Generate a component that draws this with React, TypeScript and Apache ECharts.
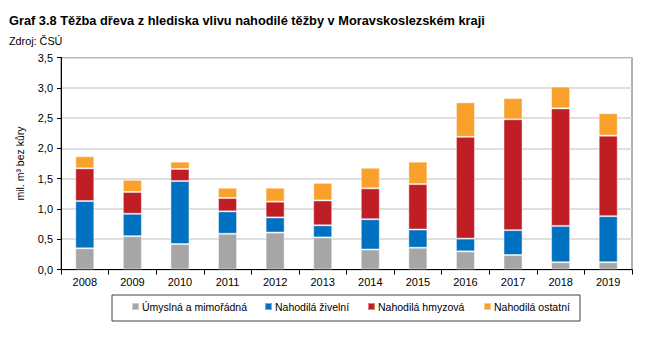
import React, { useEffect, useRef } from "react";
import * as echarts from "echarts";

const years = ["2008","2009","2010","2011","2012","2013","2014","2015","2016","2017","2018","2019"];
const umyslna = [0.35,0.55,0.42,0.59,0.61,0.53,0.33,0.36,0.30,0.24,0.12,0.12];
const zivelni = [0.78,0.37,1.04,0.37,0.25,0.20,0.50,0.30,0.21,0.41,0.60,0.76];
const hmyzova = [0.54,0.36,0.20,0.22,0.26,0.41,0.51,0.75,1.68,1.83,1.94,1.33];
const ostatni = [0.20,0.20,0.12,0.17,0.23,0.29,0.34,0.37,0.57,0.35,0.36,0.37];
const seriesNames = ["Úmyslná a mimořádná","Nahodilá živelní","Nahodilá hmyzová","Nahodilá ostatní"];
const colors = ["#A6A6A6","#0070C0","#BE1E24","#F9A12A"];
const legendLefts = [131, 264, 367, 483];

const FONT = "Liberation Sans, Arial, sans-serif";

export default function App() {
  const ref = useRef<HTMLDivElement>(null);
  useEffect(() => {
    document.body.style.margin = "0";
    const chart = echarts.init(ref.current!, null, { renderer: "svg" });
    const data = [umyslna, zivelni, hmyzova, ostatni];
    chart.setOption({
      animation: false,
      textStyle: { fontFamily: FONT },
      title: [
        { text: "Graf 3.8 Těžba dřeva z hlediska vlivu nahodilé těžby v Moravskoslezském kraji", left: 4, top: 9,
          textStyle: { fontFamily: FONT, fontSize: 12.8, fontWeight: "bold", color: "#000" } },
        { text: "Zdroj: ČSÚ", left: 4, top: 30, textStyle: { fontFamily: FONT, fontSize: 10.8, fontWeight: "normal", color: "#000" } },
      ],
      grid: { left: 61, right: 16, top: 57.5, bottom: 73.5, show: true, borderColor: "#606060", borderWidth: 1, containLabel: false },
      graphic: [
        { type: "rect", shape: { x: 112, y: 295, width: 468, height: 26 }, style: { fill: "none", stroke: "#404040", lineWidth: 1 } },
      ],
      legend: seriesNames.map((n, i) => ({
        left: legendLefts[i], top: 301, itemWidth: 7, itemHeight: 7, icon: "rect", padding: 0,
        textStyle: { fontFamily: FONT, fontSize: 10.5, color: "#000", padding: [0, 0, 0, -2] },
        data: [n],
      })),
      xAxis: {
        type: "category", data: years,
        axisLine: { lineStyle: { color: "#000", width: 1 } },
        axisTick: { show: true, length: 5, lineStyle: { color: "#000" } },
        axisLabel: { color: "#000", fontSize: 11, fontFamily: FONT, margin: 7 },
      },
      yAxis: {
        type: "value", min: 0, max: 3.5, interval: 0.5,
        name: "mil. m³ bez kůry", nameLocation: "middle", nameGap: 36, nameRotate: 90,
        nameTextStyle: { color: "#000", fontSize: 10.5, fontFamily: FONT },
        axisLine: { show: true, lineStyle: { color: "#000", width: 1 } },
        axisTick: { show: true, length: 4, lineStyle: { color: "#000" } },
        axisLabel: { color: "#000", fontSize: 11, fontFamily: FONT, margin: 8,
          formatter: (v: number) => v.toFixed(1).replace(".", ",") },
        splitLine: { lineStyle: { color: "#D4D4D4", width: 1.5 } },
      },
      series: data.map((d, i) => ({
        name: seriesNames[i], type: "bar", stack: "total", data: d, barWidth: "40%",
        itemStyle: { color: colors[i], borderColor: "rgba(255,255,255,0.45)", borderWidth: 1 },
        emphasis: { disabled: true },
      })),
    });
    return () => chart.dispose();
  }, []);
  return <div ref={ref} style={{ width: 648, height: 343 }} />;
}
